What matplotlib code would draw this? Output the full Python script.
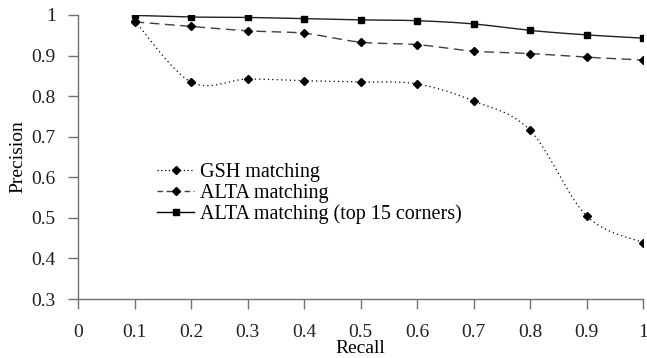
import matplotlib
matplotlib.use('Agg')
import matplotlib.pyplot as plt
import numpy as np
from matplotlib.lines import Line2D

plt.rcParams['font.family'] = ['Liberation Serif', 'DejaVu Serif']

recall = [0.1, 0.2, 0.3, 0.4, 0.5, 0.6, 0.7, 0.8, 0.9, 1.0]
gsh = [0.986, 0.835, 0.842, 0.838, 0.835, 0.830, 0.788, 0.716, 0.505, 0.439]
alta = [0.983, 0.972, 0.961, 0.955, 0.933, 0.927, 0.911, 0.905, 0.896, 0.889]
alta_top15 = [0.999, 0.995, 0.994, 0.991, 0.988, 0.986, 0.978, 0.962, 0.951, 0.943]

labels = ['GSH matching', 'ALTA matching', 'ALTA matching (top 15 corners)']


def smooth(x, y, n=30):
    # excel-like smoothed line through the points (cubic bezier, catmull-rom handles)
    x = np.asarray(x, float)
    y = np.asarray(y, float)
    pts = np.column_stack([x, y])
    out = [pts[0]]
    for i in range(len(pts) - 1):
        p0 = pts[i - 1] if i > 0 else pts[i]
        p1 = pts[i]
        p2 = pts[i + 1]
        p3 = pts[i + 2] if i + 2 < len(pts) else pts[i + 1]
        c1 = p1 + (p2 - p0) / 6
        c2 = p2 - (p3 - p1) / 6
        t = np.linspace(0, 1, n)[1:, None]
        seg = ((1 - t) ** 3 * p1 + 3 * (1 - t) ** 2 * t * c1
               + 3 * (1 - t) * t ** 2 * c2 + t ** 3 * p2)
        out.extend(seg)
    out = np.array(out)
    return out[:, 0], out[:, 1]


fig = plt.figure(figsize=(6.47, 3.58), dpi=100)
ax = fig.add_axes([78 / 647, 1 - 299 / 358, 565 / 647, 284 / 358])

sx, sy = smooth(recall, gsh)
ax.plot(sx, sy, color='black', linestyle=(0, (1, 2.5)), linewidth=0.9)
ax.plot(recall, gsh, linestyle='none', marker='D', markersize=4, color='black')

sx, sy = smooth(recall, alta)
ax.plot(sx, sy, color='#404040', linestyle=(0, (7, 4)), linewidth=1.0)
ax.plot(recall, alta, linestyle='none', marker='D', markersize=4, color='black')

sx, sy = smooth(recall, alta_top15)
ax.plot(sx, sy, color='#202020', linestyle='-', linewidth=1.0)
ax.plot(recall, alta_top15, linestyle='none', marker='s', markersize=5, color='black')

ax.set_xlim(0, 1)
ax.set_ylim(0.3, 1)
ax.set_xticks(np.arange(0, 1.01, 0.1))
ax.set_yticks(np.arange(0.3, 1.01, 0.1))
ax.set_xticklabels(['0', '0.1', '0.2', '0.3', '0.4', '0.5', '0.6', '0.7', '0.8', '0.9', '1'])
ax.set_yticklabels(['0.3', '0.4', '0.5', '0.6', '0.7', '0.8', '0.9', '1'])

for s in ['top', 'right']:
    ax.spines[s].set_visible(False)
for s in ['left', 'bottom']:
    ax.spines[s].set_color('#707070')
    ax.spines[s].set_linewidth(1.0)
ax.tick_params(axis='both', direction='out', length=7, width=1, color='#707070',
               labelsize=14, colors='#202020')
ax.tick_params(axis='x', pad=11)
ax.tick_params(axis='y', pad=9)

ax.set_xlabel('Recall', fontsize=14, va='bottom')
ax.xaxis.set_label_coords(0.5, -0.205)
ax.set_ylabel('Precision', fontsize=14, va='center')
ax.yaxis.set_label_coords(-0.106, 0.5)

handles = [
    Line2D([0], [0], color='black', linestyle=(0, (1, 2)), linewidth=0.9,
           marker='D', markersize=4),
    Line2D([0], [0], color='#404040', linestyle=(0, (4, 2.5)), linewidth=1.0,
           marker='D', markersize=4, markerfacecolor='black', markeredgecolor='black'),
    Line2D([0], [0], color='black', linestyle='-', linewidth=1.0,
           marker='s', markersize=5),
]
ax.legend(handles, labels, loc='center left', bbox_to_anchor=(0.14, 0.37),
          frameon=False, fontsize=14.5, handlelength=1.85, handletextpad=0.3,
          labelspacing=0.08, borderpad=0, borderaxespad=0)

fig.savefig('out.png', dpi=100)
